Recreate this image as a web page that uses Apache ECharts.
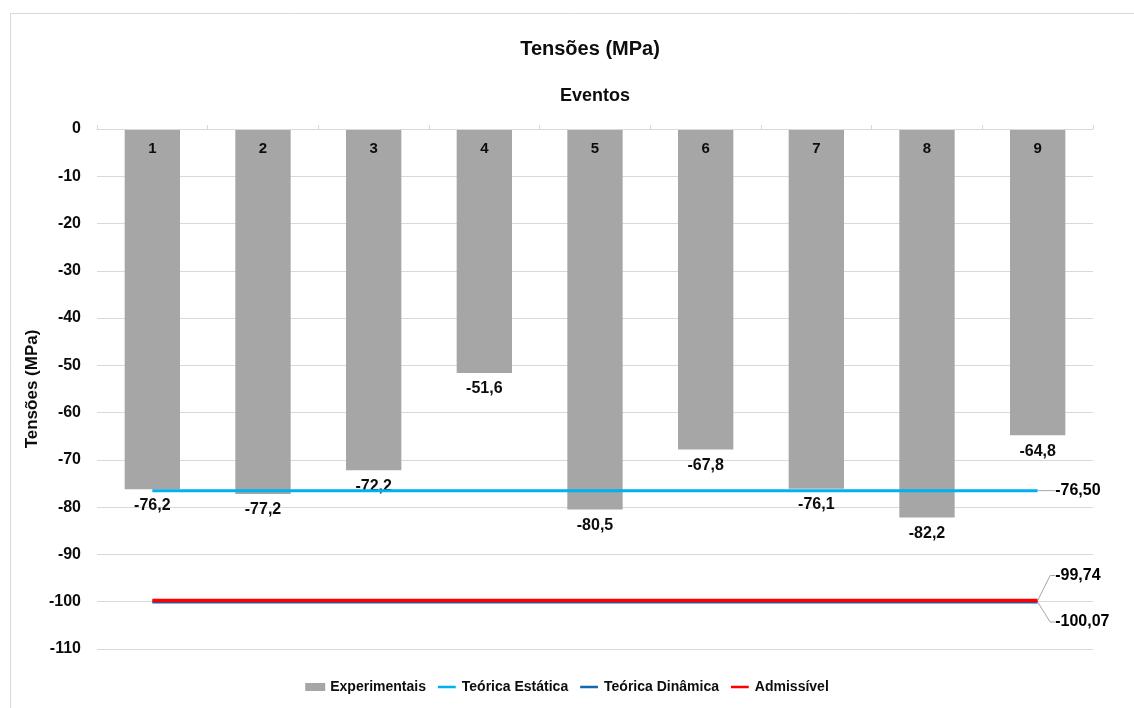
<!DOCTYPE html>
<html>
<head>
<meta charset="utf-8">
<script src="https://cdn.jsdelivr.net/npm/echarts@6/dist/echarts.min.js"></script>
<style>
  html, body { margin: 0; padding: 0; background: #fff; }
  #chart { width: 1134px; height: 708px; }
</style>
</head>
<body>
<div id="chart"></div>
<script>
// Eventos (categorias do eixo superior)
const eventos = ['1', '2', '3', '4', '5', '6', '7', '8', '9'];
// Tensões medidas em cada evento (MPa)
const experimentais = [-76.2, -77.2, -72.2, -51.6, -80.5, -67.8, -76.1, -82.2, -64.8];
// Valores de referência (MPa)
const teoricaEstatica = -76.50;
const teoricaDinamica = -100.07;
const admissivel = -99.74;
// Eixo de tensões
const yMin = -110, yMax = 0, yStep = 10;

const FONT = "'Liberation Sans', Arial, sans-serif";
const NARROW = "'Liberation Sans Narrow', 'Arial Narrow', 'Liberation Sans', sans-serif";
const TXT = '#0d0d0d';

const fmt = (v, d) => v.toFixed(d).replace('.', ',');
const flat = v => eventos.map(() => v);

const refValues = [teoricaEstatica, teoricaDinamica, admissivel];
const refShift = [0, 20, -25];

// Ícone de legenda: traço fino centrado (sub-caminhos degenerados só fixam a altura da caixa)
const LINE_ICON = 'path://M0,0L1,0L1,0Z M0,3H20V6H0Z M0,9L1,9L1,9Z';

const chart = echarts.init(document.getElementById('chart'), null, { renderer: 'canvas' });

chart.setOption({
  animation: false,
  backgroundColor: '#ffffff',
  graphic: [{
    type: 'rect', left: 8, top: 11, z: -10, silent: true,
    shape: { width: 1300, height: 900 },
    style: { fill: 'none', stroke: '#d9d9d9', lineWidth: 1 }
  }],
  title: {
    text: 'Tensões (MPa)',
    left: 585, top: 34, textAlign: 'center',
    textStyle: { fontFamily: FONT, fontWeight: 'bold', fontSize: 20, color: TXT }
  },
  legend: {
    data: [
      { name: 'Experimentais', icon: 'rect' },
      { name: 'Teórica Estática', icon: LINE_ICON },
      { name: 'Teórica Dinâmica', icon: LINE_ICON },
      { name: 'Admissível', icon: LINE_ICON }
    ],
    left: 'center', top: 675,
    itemWidth: 20, itemHeight: 8, itemGap: 12,
    textStyle: { fontFamily: NARROW, fontWeight: 'bold', fontSize: 14, color: TXT }
  },
  grid: { left: 97, right: 41, top: 129, bottom: 59, containLabel: false },
  xAxis: {
    type: 'category',
    position: 'top',
    data: eventos,
    name: 'Eventos',
    nameLocation: 'middle',
    nameGap: 24,
    nameTextStyle: { fontFamily: FONT, fontWeight: 'bold', fontSize: 18, color: TXT },
    axisLine: { show: true, lineStyle: { color: '#d9d9d9', width: 1 } },
    axisTick: { show: true, inside: false, length: 4, lineStyle: { color: '#d9d9d9' } },
    axisLabel: {
      inside: true, margin: 12,
      fontFamily: FONT, fontWeight: 'bold', fontSize: 15, color: TXT
    },
    splitLine: { show: false },
    z: 10
  },
  yAxis: {
    type: 'value',
    min: yMin, max: yMax, interval: yStep,
    name: 'Tensões (MPa)',
    nameLocation: 'middle',
    nameRotate: 90,
    nameGap: 56,
    nameMoveOverlap: false,
    nameTextStyle: { fontFamily: FONT, fontWeight: 'bold', fontSize: 17, color: TXT },
    axisLine: { show: false },
    axisTick: { show: false },
    axisLabel: { margin: 16, fontFamily: FONT, fontWeight: 'bold', fontSize: 16, color: TXT },
    splitLine: { lineStyle: { color: '#d9d9d9', width: 1 } }
  },
  series: [
    {
      name: 'Experimentais',
      type: 'bar',
      data: experimentais,
      barWidth: '50%',
      itemStyle: { color: '#a6a6a6' },
      label: {
        show: true, position: 'bottom', distance: 8,
        formatter: p => fmt(p.value, 1),
        fontFamily: FONT, fontWeight: 'bold', fontSize: 16, color: TXT
      },
      z: 2
    },
    {
      name: 'Teórica Estática',
      type: 'line',
      data: flat(teoricaEstatica),
      symbol: 'none',
      lineStyle: { color: '#00b0f0', width: 3 },
      itemStyle: { color: '#00b0f0' },
      z: 3
    },
    {
      name: 'Teórica Dinâmica',
      type: 'line',
      data: flat(teoricaDinamica),
      symbol: 'none',
      lineStyle: { color: '#1565b0', width: 3 },
      itemStyle: { color: '#1565b0' },
      z: 3
    },
    {
      name: 'Admissível',
      type: 'line',
      data: flat(admissivel),
      symbol: 'none',
      lineStyle: { color: '#ff0000', width: 3.5 },
      itemStyle: { color: '#ff0000' },
      z: 4
    },
    {
      // rótulos dos valores de referência no fim das linhas
      name: 'Rótulos',
      type: 'scatter',
      data: refValues.map(v => [eventos[eventos.length - 1], v]),
      symbolSize: 1,
      itemStyle: { color: 'rgba(0,0,0,0)', opacity: 1 },
      label: {
        show: true, position: 'right', distance: 5, opacity: 1,
        formatter: p => fmt(p.value[1], 2),
        fontFamily: FONT, fontWeight: 'bold', fontSize: 16, color: '#000000'
      },
      labelLine: { show: true, length2: 5, lineStyle: { color: '#a6a6a6', width: 1 } },
      labelLayout: p => ({ dx: 12, dy: refShift[p.dataIndex] }),
      emphasis: { disabled: true },
      z: 5
    }
  ]
});
</script>
</body>
</html>
